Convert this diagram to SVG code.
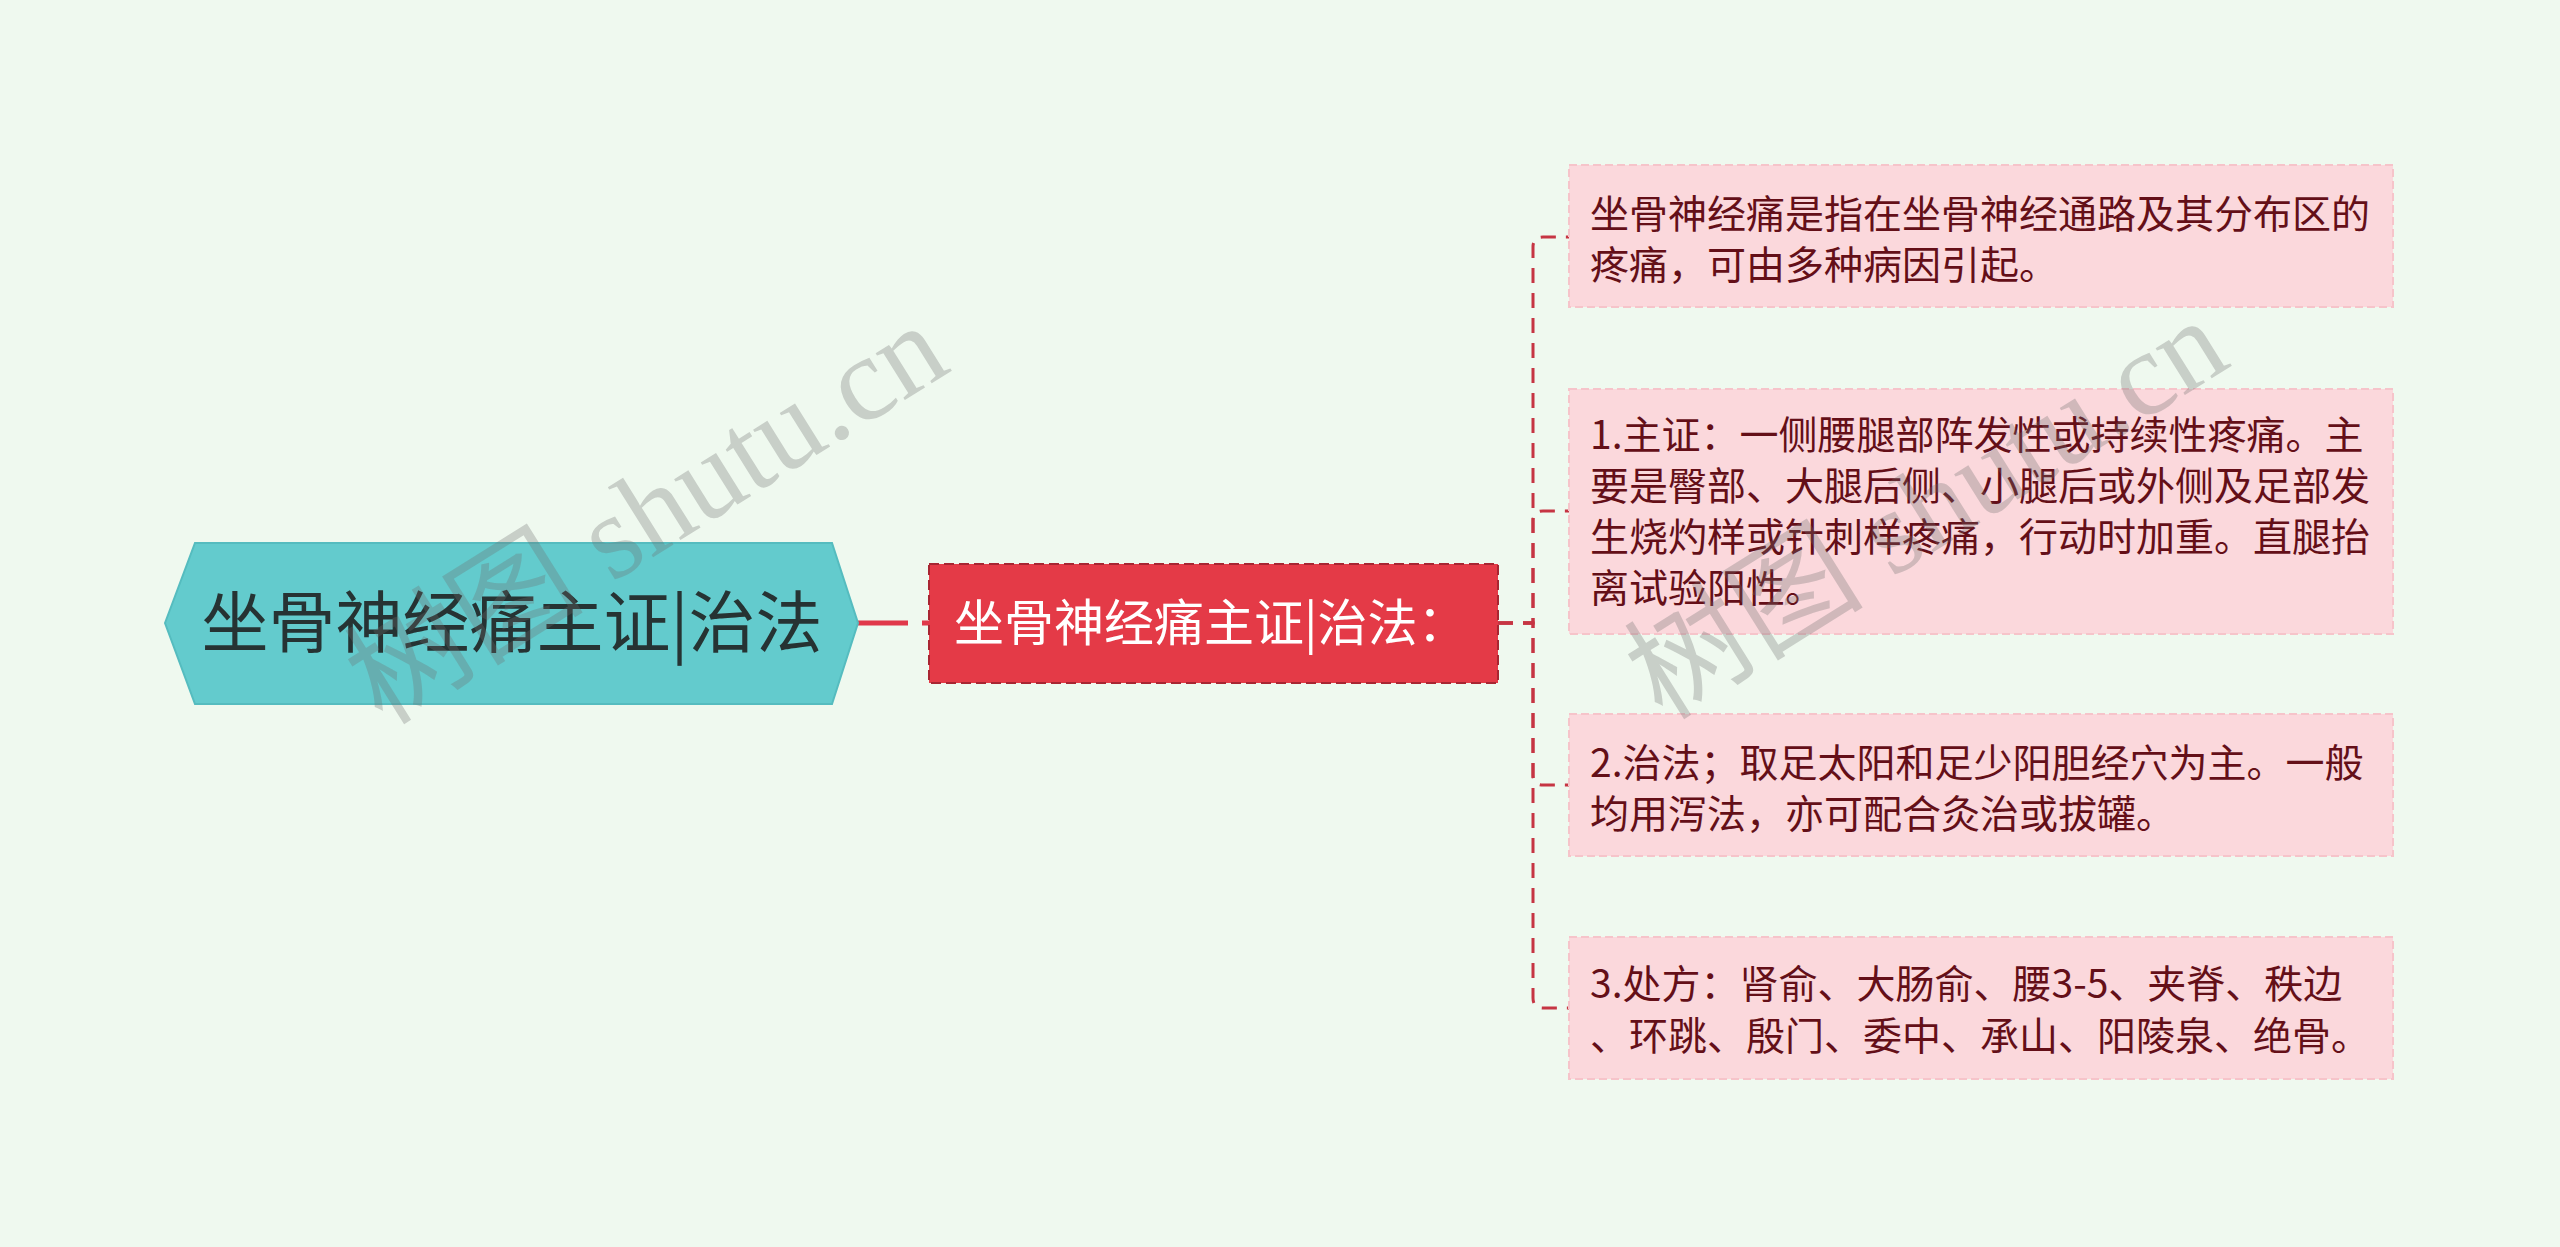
<svg xmlns="http://www.w3.org/2000/svg" width="2560" height="1247" viewBox="0 0 2560 1247">
<style>
.bg{fill:#eff9ef}
.root{fill:#63cbcd;stroke:#55bcbf;stroke-width:2}
.roott{font-family:"Noto Sans CJK SC","Noto Sans",sans-serif;font-size:67px;fill:#263333}
.mid{fill:#e43a47;stroke:#a82632;stroke-width:2;stroke-dasharray:10 5}
.midt{font-family:"Noto Sans CJK SC","Noto Sans",sans-serif;font-size:50px;fill:#ffffff}
.leaf{fill:#fbd8dc;stroke:#f6c4ca;stroke-width:2;stroke-dasharray:8 4}
.leaft{font-family:"Noto Sans CJK SC","Noto Sans",sans-serif;font-size:39px;fill:#640f18}
.c1{fill:none;stroke:#e0394a;stroke-width:5;stroke-dasharray:50 14}
.c2{fill:none;stroke:#c63543;stroke-width:3;stroke-dasharray:15 10}
.wm{font-family:"Liberation Serif","Noto Sans CJK SC",serif;font-size:120px;fill:#6e6e6e;fill-opacity:0.3}
</style>
<rect class="bg" x="0" y="0" width="2560" height="1247"/>
<g id="connectors">
<path class="c1" d="M858,623 L929,623"/>
<path class="c2" d="M1498,623 L1533,623 L1533,247 Q1533,237 1543,237 L1569,237"/>
<path class="c2" d="M1498,623 L1533,623 L1533,521 Q1533,511 1543,511 L1569,511"/>
<path class="c2" d="M1498,623 L1533,623 L1533,775 Q1533,785 1543,785 L1569,785"/>
<path class="c2" d="M1498,623 L1533,623 L1533,998 Q1533,1008 1543,1008 L1569,1008"/>
</g>
<g id="root">
<polygon class="root" points="165,623 195,543 832,543 858,623 832,704 195,704"/>
<text class="roott" x="512" y="647" text-anchor="middle">坐骨神经痛主证|治法</text>
</g>
<g id="middle">
<rect class="mid" x="929" y="564" width="569" height="119"/>
<text class="midt" x="954" y="641">坐骨神经痛主证|治法：</text>
</g>
<g id="leaf1">
<rect class="leaf" x="1569" y="165" width="824" height="142"/>
<text class="leaft" x="1590"><tspan x="1590" y="228">坐骨神经痛是指在坐骨神经通路及其分布区的</tspan><tspan x="1590" y="279">疼痛，可由多种病因引起。</tspan></text>
</g>
<g id="leaf2">
<rect class="leaf" x="1569" y="389" width="824" height="245"/>
<text class="leaft" x="1590"><tspan x="1590" y="449">1.主证：一侧腰腿部阵发性或持续性疼痛。主</tspan><tspan x="1590" y="500">要是臀部、大腿后侧、小腿后或外侧及足部发</tspan><tspan x="1590" y="551">生烧灼样或针刺样疼痛，行动时加重。直腿抬</tspan><tspan x="1590" y="602">离试验阳性。</tspan></text>
</g>
<g id="leaf3">
<rect class="leaf" x="1569" y="714" width="824" height="142"/>
<text class="leaft" x="1590"><tspan x="1590" y="777">2.治法；取足太阳和足少阳胆经穴为主。一般</tspan><tspan x="1590" y="828">均用泻法，亦可配合灸治或拔罐。</tspan></text>
</g>
<g id="leaf4">
<rect class="leaf" x="1569" y="937" width="824" height="142"/>
<text class="leaft" x="1590"><tspan x="1590" y="998">3.处方：肾俞、大肠俞、腰3-5、夹脊、秩边</tspan><tspan x="1590" y="1050">、环跳、殷门、委中、承山、阳陵泉、绝骨。</tspan></text>
</g>
<g id="watermarks">
<text class="wm" x="0" y="0" text-anchor="middle" transform="translate(668,548) rotate(-32)">树图 shutu.cn</text>
<text class="wm" x="0" y="0" text-anchor="middle" transform="translate(1948,543) rotate(-32)">树图 shutu.cn</text>
</g>
</svg>
